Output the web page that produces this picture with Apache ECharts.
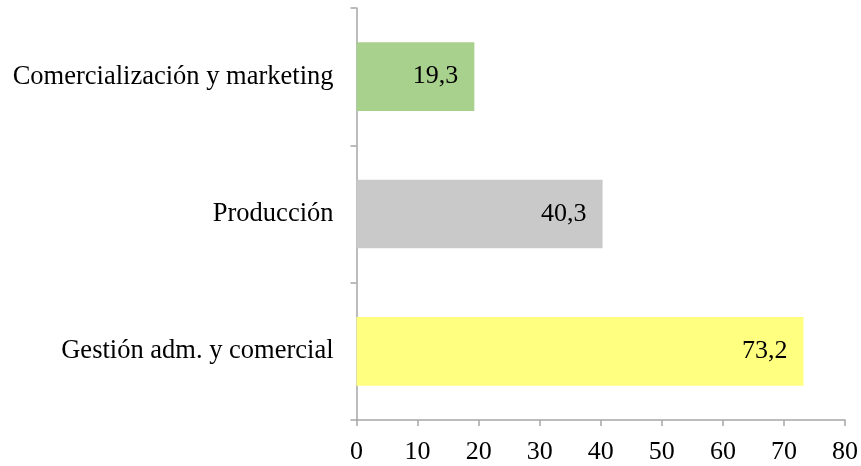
<!DOCTYPE html>
<html>
<head>
<meta charset="utf-8">
<script src="https://cdn.jsdelivr.net/npm/echarts@6/dist/echarts.min.js"></script>
<style>html,body{margin:0;padding:0;background:#fff;}#c{width:861px;height:466px;}</style>
</head>
<body>
<div id="c"></div>
<script>
var categories = ['Gestión adm. y comercial', 'Producción', 'Comercialización y marketing'];
var values = [73.2, 40.3, 19.3];
var colors = ['#FFFF80', '#C9C9C9', '#A9D18E'];
var xTicks = [0, 10, 20, 30, 40, 50, 60, 70, 80];

var font = '"Liberation Serif", "Times New Roman", serif';
var chart = echarts.init(document.getElementById('c'), null, {renderer: 'canvas'});
chart.setOption({
  animation: false,
  grid: {left: 356.5, right: 15, top: 8, bottom: 46, containLabel: false},
  xAxis: {
    type: 'value', min: xTicks[0], max: xTicks[xTicks.length - 1], interval: 10,
    axisLine: {show: true, lineStyle: {color: '#A6A6A6', width: 1.5}},
    axisTick: {show: true, length: 6, lineStyle: {color: '#A6A6A6', width: 1.5}},
    splitLine: {show: false},
    axisLabel: {fontFamily: font, fontSize: 26, color: '#000', margin: 19}
  },
  yAxis: {
    type: 'category', data: categories,
    axisLine: {show: true, lineStyle: {color: '#A6A6A6', width: 1.5}},
    axisTick: {show: true, length: 6, lineStyle: {color: '#A6A6A6', width: 1.5}},
    axisLabel: {fontFamily: font, fontSize: 26.5, color: '#000', margin: 23}
  },
  series: [{
    type: 'bar',
    barWidth: '50%',
    data: values.map(function (v, i) { return {value: v, itemStyle: {color: colors[i]}}; }),
    label: {
      show: true, position: 'insideRight', distance: 16,
      fontFamily: font, fontSize: 26, color: '#000',
      formatter: function (p) { return p.value.toFixed(1).replace('.', ','); }
    }
  }]
});
</script>
</body>
</html>
